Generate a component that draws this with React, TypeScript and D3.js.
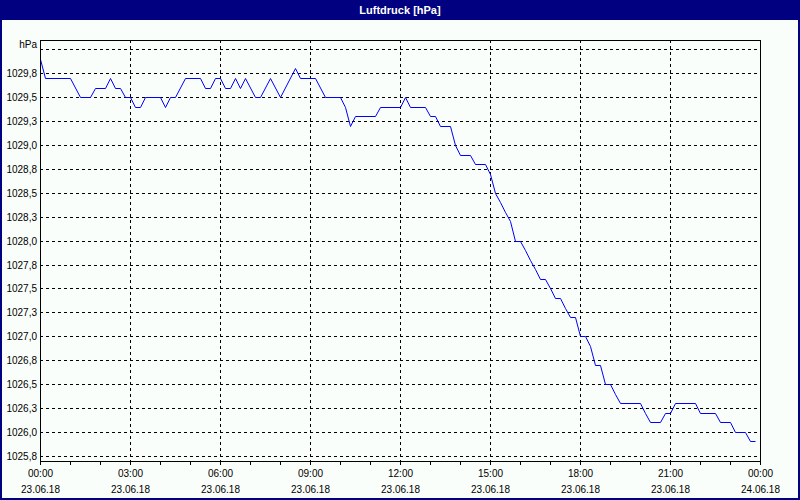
import React from "react";
import * as d3 from "d3";

const title = "Luftdruck [hPa]";
const unitLabel = "hPa";

// measurement times (23.06.18) and pressure values (hPa)
const times = [
  "00:00", "00:10", "01:00", "01:20", "01:40", "01:50", "02:10", "02:20", "02:30", "02:40",
  "02:50", "03:00", "03:10", "03:20", "03:30", "04:00", "04:10", "04:20", "04:30", "04:50",
  "05:20", "05:30", "05:40", "05:50", "06:00", "06:10", "06:20", "06:30", "06:40", "06:50",
  "07:10", "07:20", "07:40", "08:00", "08:30", "08:40", "09:10", "09:30", "10:00", "10:10",
  "10:20", "10:30", "11:10", "11:20", "12:00", "12:10", "12:20", "12:50", "13:00", "13:10",
  "13:20", "13:40", "13:50", "14:00", "14:20", "14:30", "14:50", "15:00", "15:10", "15:20",
  "15:30", "15:40", "15:50", "16:00", "16:10", "16:20", "16:30", "16:40", "16:50", "17:00",
  "17:10", "17:20", "17:30", "17:40", "17:50", "18:00", "18:10", "18:20", "18:30", "18:40",
  "18:50", "19:00", "19:10", "19:20", "20:00", "20:10", "20:20", "20:40", "20:50", "21:00",
  "21:10", "21:50", "22:00", "22:30", "22:40", "23:00", "23:10", "23:30", "23:40", "23:50"
];
const pressure = [
  1029.9, 1029.7, 1029.7, 1029.5, 1029.5, 1029.6, 1029.6, 1029.7, 1029.6, 1029.6,
  1029.5, 1029.5, 1029.4, 1029.4, 1029.5, 1029.5, 1029.4, 1029.5, 1029.5, 1029.7,
  1029.7, 1029.6, 1029.6, 1029.7, 1029.7, 1029.6, 1029.6, 1029.7, 1029.6, 1029.7,
  1029.5, 1029.5, 1029.7, 1029.5, 1029.8, 1029.7, 1029.7, 1029.5, 1029.5, 1029.4,
  1029.2, 1029.3, 1029.3, 1029.4, 1029.4, 1029.5, 1029.4, 1029.4, 1029.3, 1029.3,
  1029.2, 1029.2, 1029.0, 1028.9, 1028.9, 1028.8, 1028.8, 1028.7, 1028.5, 1028.4,
  1028.3, 1028.2, 1028.0, 1028.0, 1027.9, 1027.8, 1027.7, 1027.6, 1027.6, 1027.5,
  1027.4, 1027.4, 1027.3, 1027.2, 1027.2, 1027.0, 1027.0, 1026.9, 1026.7, 1026.7,
  1026.5, 1026.5, 1026.4, 1026.3, 1026.3, 1026.2, 1026.1, 1026.1, 1026.2, 1026.2,
  1026.3, 1026.3, 1026.2, 1026.2, 1026.1, 1026.1, 1026.0, 1026.0, 1025.9, 1025.9
];

const yTicks = [1030.0, 1029.75, 1029.5, 1029.25, 1029.0, 1028.75, 1028.5, 1028.25, 1028.0,
  1027.75, 1027.5, 1027.25, 1027.0, 1026.75, 1026.5, 1026.25, 1026.0, 1025.75];
const yDomain = [1025.695, 1030.098];

const xTickTimes = ["00:00", "03:00", "06:00", "09:00", "12:00", "15:00", "18:00", "21:00", "00:00"];
const xTickDates = ["23.06.18", "23.06.18", "23.06.18", "23.06.18", "23.06.18", "23.06.18", "23.06.18", "23.06.18", "24.06.18"];

const W = 800, H = 500;
const L = 40, T = 40, R = 760, B = 461;
const NAVY = "#000080";
const BG = "#FAFEFA";
const FONT = "'Liberation Sans', Arial, sans-serif";

const toDate = (t: string, dayOffset = 0) => {
  const [h, m] = t.split(":").map(Number);
  return new Date(2018, 5, 23 + dayOffset, h, m);
};

export default function App() {
  const start = new Date(2018, 5, 23, 0, 0);
  const end = new Date(2018, 5, 24, 0, 0);
  const x = d3.scaleTime().domain([start, end]).range([L, R]);
  const y = d3.scaleLinear().domain(yDomain).range([B, T]);

  const data = times.map((t, i) => ({ d: toDate(t), v: pressure[i] }));
  const line = d3.line<{ d: Date; v: number }>()
    .x((p) => Math.round(x(p.d)) + 0.5)
    .y((p) => Math.round(y(p.v)) + 0.5);

  const hourTicks = d3.timeHour.every(1)!.range(start, d3.timeHour.offset(end, 1));
  const majorTicks = xTickTimes.map((t, i) => toDate(t, i === xTickTimes.length - 1 ? 1 : 0));

  return (
    <svg width={W} height={H} style={{ position: "absolute", left: 0, top: 0, display: "block" }}
      fontFamily={FONT}>
      <rect x={0} y={0} width={W} height={H} fill={BG} />
      <rect x={1} y={1} width={W - 2} height={H - 2} fill="none" stroke={NAVY} strokeWidth={2} />
      <rect x={0} y={0} width={W} height={20} fill={NAVY} />
      <text x={W / 2} y={14} textAnchor="middle" fill="#fff" fontWeight="bold" fontSize={11}>{title}</text>

      {/* horizontal grid */}
      {yTicks.map((v) => (
        <line key={"gy" + v} x1={L} x2={R} y1={Math.round(y(v)) + 0.5} y2={Math.round(y(v)) + 0.5}
          stroke="#000" strokeDasharray="3,3" strokeWidth={1} shapeRendering="crispEdges" />
      ))}
      {/* vertical grid */}
      {majorTicks.slice(1, -1).map((d, i) => (
        <line key={"gx" + i} y1={T} y2={B} x1={Math.round(x(d)) + 0.5} x2={Math.round(x(d)) + 0.5}
          stroke="#000" strokeDasharray="3,3" strokeWidth={1} shapeRendering="crispEdges" />
      ))}

      {/* y labels */}
      {yTicks.slice(1).map((v) => (
        <text key={"ly" + v} x={37} y={y(v) + 4} textAnchor="end" fontSize={10} fill="#000">
          {v.toFixed(1).replace(".", ",")}
        </text>
      ))}
      <text x={37} y={y(yTicks[0]) - 1} textAnchor="end" fontSize={10} fill="#000">{unitLabel}</text>

      {/* x ticks */}
      {hourTicks.map((d, i) => (
        <line key={"tx" + i} x1={Math.round(x(d)) + 0.5} x2={Math.round(x(d)) + 0.5} y1={B} y2={B + 4}
          stroke="#000" shapeRendering="crispEdges" />
      ))}
      {majorTicks.map((d, i) => (
        <g key={"lx" + i}>
          <text x={x(d) + 0.5} y={477} textAnchor="middle" fontSize={10} fill="#000">{xTickTimes[i]}</text>
          <text x={x(d) + 0.5} y={493} textAnchor="middle" fontSize={10} fill="#000">{xTickDates[i]}</text>
        </g>
      ))}

      {/* data line */}
      <path d={line(data) || ""} fill="none" stroke="#0000FF" strokeWidth={1} />

      {/* frame */}
      <rect x={L + 0.5} y={T + 0.5} width={R - L} height={B - T} fill="none" stroke="#000" strokeWidth={1}
        shapeRendering="crispEdges" />
    </svg>
  );
}
